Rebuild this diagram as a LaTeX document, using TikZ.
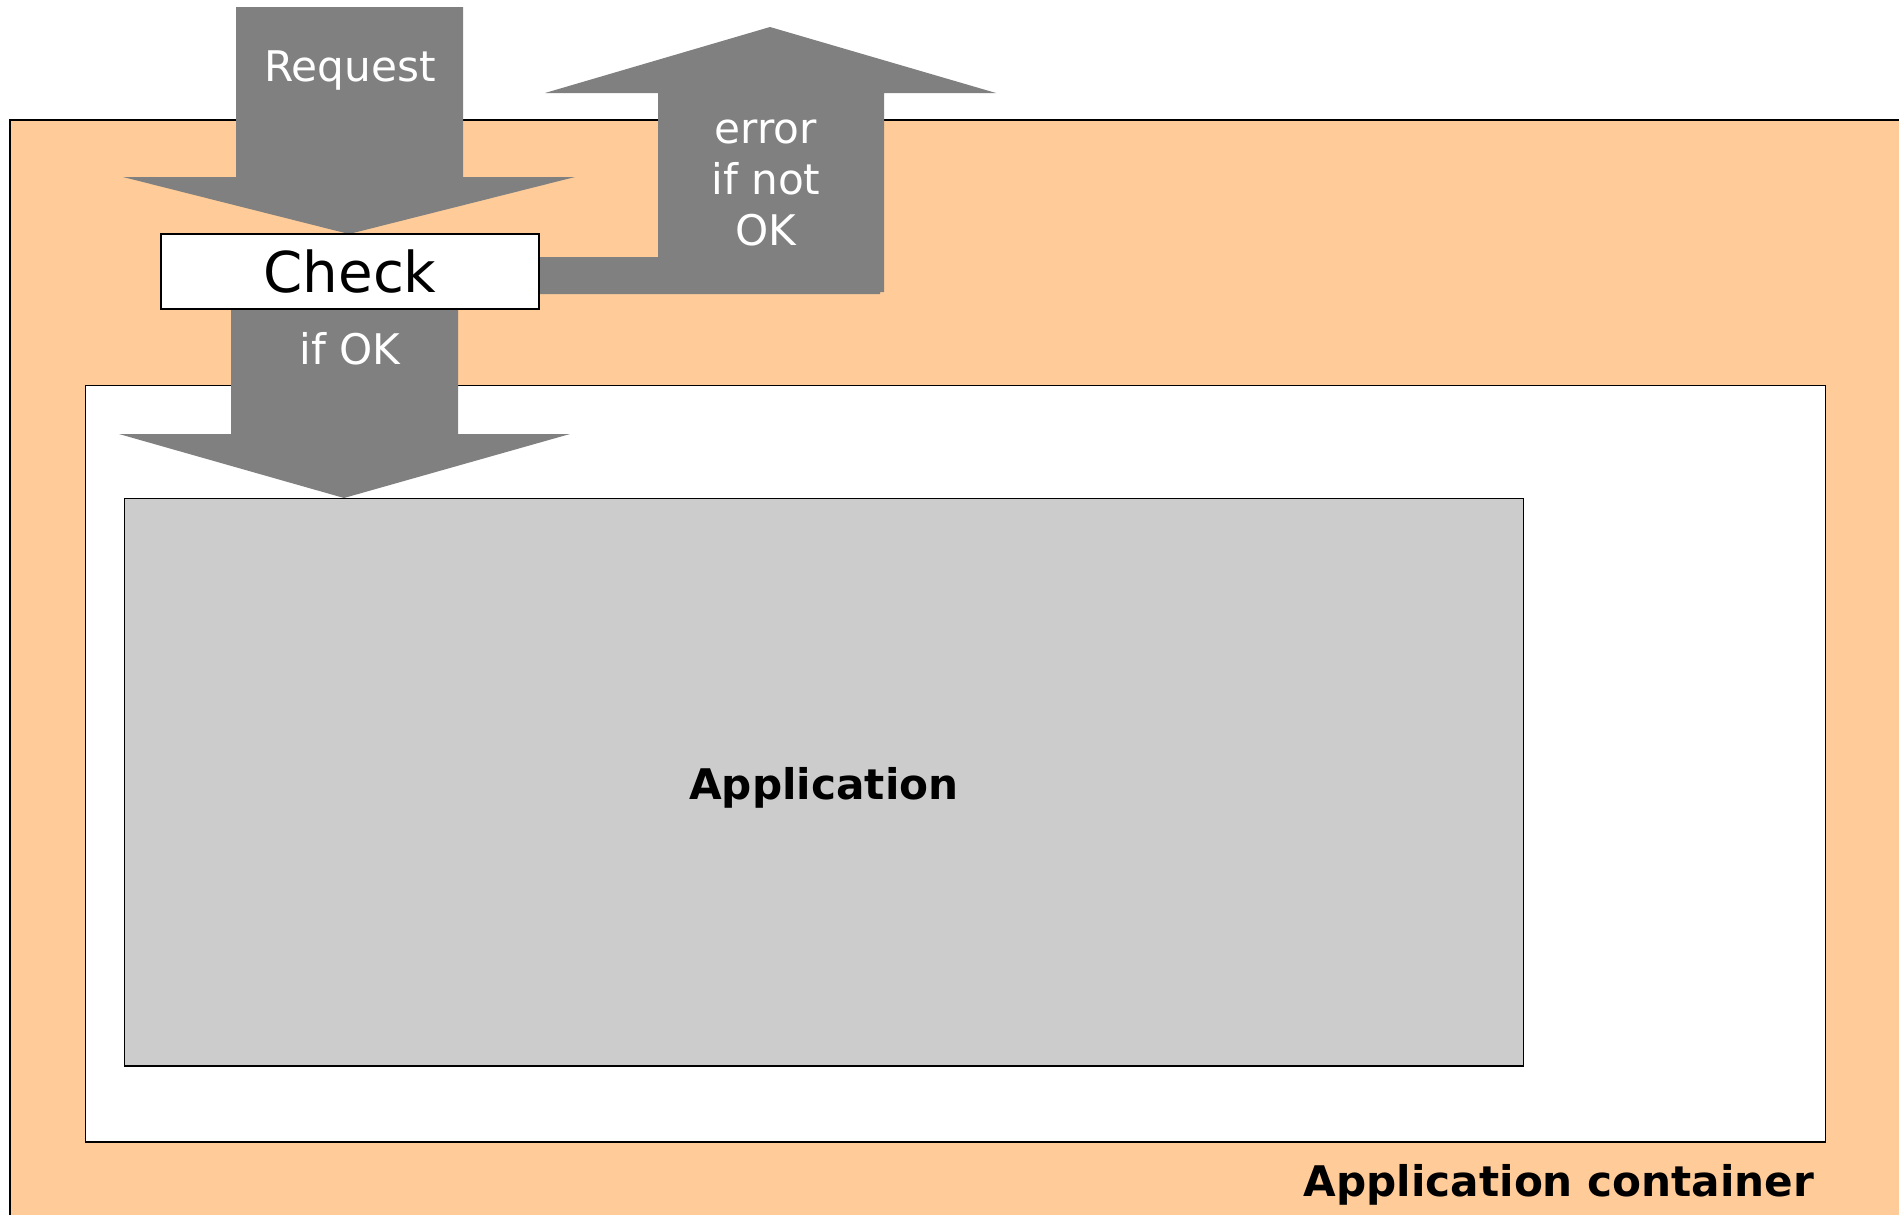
\documentclass[tikz,border=0pt]{standalone}
\usepackage{fontspec}
\setmainfont{DejaVu Sans}
\usetikzlibrary{positioning}

\definecolor{boxorange}{RGB}{255,204,153}
\definecolor{arrowgray}{RGB}{128,128,128}
\definecolor{appgray}{RGB}{204,204,204}

\tikzset{
  frame/.style={draw=black,line width=0.4pt},
  arrowlabel/.style={text=white,font=\fontsize{12}{14.5}\selectfont,align=center,inner sep=0pt},
  boldlabel/.style={text=black,font=\fontsize{12}{14.5}\selectfont\bfseries,inner sep=0pt}
}

\begin{document}
\begin{tikzpicture}[x=0.01cm,y=-0.01cm]

    \useasboundingbox (0,0) rectangle (1899,1215);
    \clip (0,0) rectangle (1899,1215);

    % the container and the boxes inside it
    \fill[boxorange] (10,120) rectangle (1910,1225);
    \draw[frame] (10,1225) -- (10,120) -- (1910,120);
    \node[frame,fill=white,minimum width=17.39cm,minimum height=7.56cm,inner sep=0pt,anchor=north west] (inner) at (85,385) {};
    \node[frame,fill=appgray,minimum width=13.985cm,minimum height=5.67cm,inner sep=0pt,anchor=north west] (app) at (123.5,498) {};

    % the request arrow
    \fill[arrowgray] (236,7) -- (463,7) -- (463,177) -- (575,177) -- (349,234)
      -- (123,177) -- (236,177) -- cycle;

    % the error arrow, going back up
    \fill[arrowgray] (500,257) -- (658,257) -- (658,93) -- (545,93) -- (770,27)
      -- (996,93) -- (884,93) -- (884,292) -- (880,292) -- (880,294) -- (500,294) -- cycle;

    % the if OK arrow, down into the application
    \fill[arrowgray] (231,300) -- (458,300) -- (458,434) -- (570,434) -- (344,498)
      -- (119,434) -- (231,434) -- cycle;

    % the check box
    \node[frame,fill=white,minimum width=3.78cm,minimum height=0.75cm,inner sep=0pt,
      font=\fontsize{16}{19}\selectfont] (check) at (350,271.5) {Check};

    % labels
    \node[arrowlabel] (request) at (350,71) {Request};
    \node[arrowlabel] (error) at (766,183) {error\\if not\\OK};
    \node[arrowlabel] (ifok) at (350,349) {if OK};
    \node[boldlabel,yshift=-0.05cm] (applabel) at (app.center) {Application};
    \node[boldlabel,anchor=east] (contlabel) at (1815,1185) {Application container};

\end{tikzpicture}
\end{document}
